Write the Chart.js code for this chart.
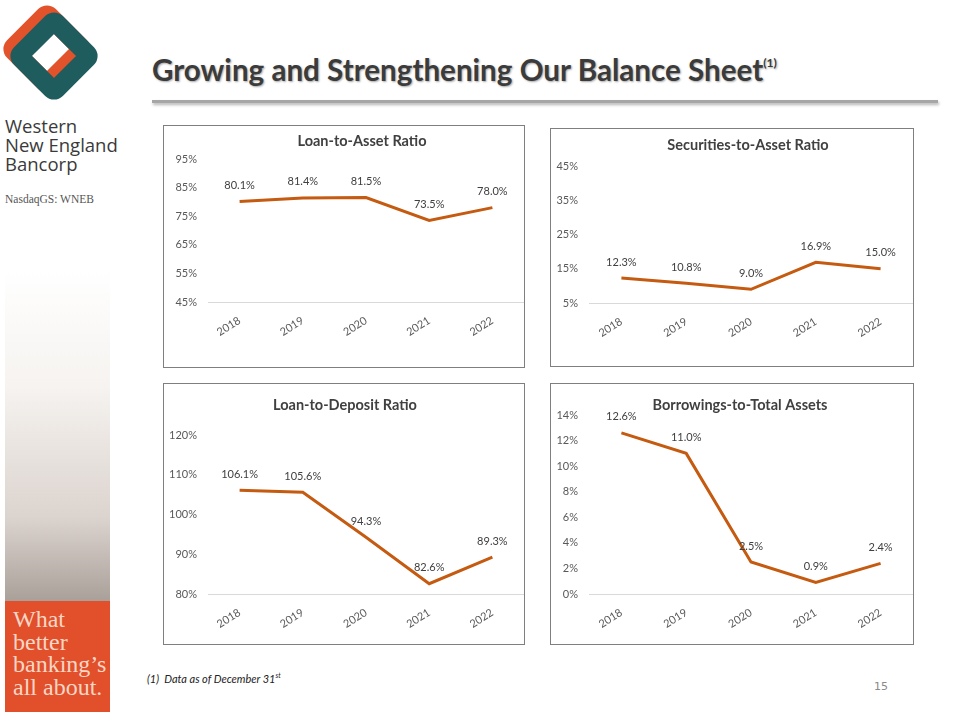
<!DOCTYPE html>
<html>
<head>
<meta charset="utf-8">
<script src="https://cdn.jsdelivr.net/npm/chart.js@4.4.0/dist/chart.umd.min.js"></script>
<style>
    html, body { margin: 0; padding: 0; background: #fff; }
    body { width: 960px; height: 720px; position: relative; overflow: hidden; font-family: Lato, sans-serif; }
    .abs { position: absolute; }
    .brand { left: 5px; top: 116px; font-family: "Open Sans", sans-serif; font-size: 18.5px; line-height: 19px; color: #3a3a3a; }
    .ticker { left: 5px; top: 193px; font-family: "Liberation Serif", serif; font-size: 11.5px; color: #555; }
    .fade { left: 5px; top: 270px; width: 105px; height: 331px; background: linear-gradient(to bottom, #ffffff 0%, #f6f3f0 35%, #dbd3ce 75%, #aaa09a 100%); }
    .tagline { left: 5px; top: 601px; width: 105px; height: 111px; background: #e1502a; color: #f9d6c6; font-family: "Liberation Serif", serif; font-size: 24px; line-height: 22.5px; box-sizing: border-box; padding: 7px 0 0 8px; }
    .title { left: 152px; top: 52px; font-weight: 700; font-size: 29.6px; color: #3b3b3b; text-shadow: 1px 1px 2px rgba(0,0,0,0.35); white-space: nowrap; }
    .title sup { font-size: 12px; vertical-align: 14px; }
    .rule { left: 152px; top: 100px; width: 786px; height: 3px; background: #a6a6a6; box-shadow: 1px 2px 3px rgba(0,0,0,0.3); }
    .box { border: 1px solid #7f7f7f; box-sizing: border-box; }
    .box canvas { display: block; }
    .note { left: 147px; top: 671px; font-style: italic; font-size: 11px; color: #222; }
    .note sup { font-size: 7px; }
    .page { left: 874px; top: 680px; font-family: Tahoma, "DejaVu Sans", sans-serif; font-size: 11px; color: #8a8a8a; }
</style>
</head>
<body>

<svg class="abs" style="left:0;top:0" width="110" height="110">
    <rect x="22" y="24" width="50" height="50" rx="3" fill="none" stroke="#e2532b" stroke-width="19" transform="rotate(45 47 49)"></rect>
    <rect x="29" y="31" width="50" height="50" rx="3" fill="none" stroke="#1f5c5e" stroke-width="19" transform="rotate(45 54 56)"></rect>
</svg>
<div class="abs brand">Western<br>New England<br>Bancorp</div>
<div class="abs ticker">NasdaqGS: WNEB</div>
<div class="abs fade"></div>
<div class="abs tagline">What<br>better<br>banking’s<br>all about.</div>

<div class="abs title">Growing and Strengthening Our Balance Sheet<sup>(1)</sup></div>
<div class="abs rule"></div>

<div class="abs box" style="left:163px;top:125px;width:362px;height:243px"><canvas id="c-loan-asset"></canvas></div>
<div class="abs box" style="left:550px;top:128px;width:364px;height:239px"><canvas id="c-sec-asset"></canvas></div>
<div class="abs box" style="left:163px;top:383px;width:362px;height:262px"><canvas id="c-loan-deposit"></canvas></div>
<div class="abs box" style="left:550px;top:383px;width:364px;height:262px"><canvas id="c-borrowings"></canvas></div>

<div class="abs note">(1)&nbsp; Data as of December 31<sup>st</sup></div>
<div class="abs page">15</div>

<script>
// Dados
const years = ['2018', '2019', '2020', '2021', '2022'];

const loanToAsset = [80.1, 81.4, 81.5, 73.5, 78.0];
const securitiesToAsset = [12.3, 10.8, 9.0, 16.9, 15.0];
const loanToDeposit = [106.1, 105.6, 94.3, 82.6, 89.3];
const borrowingsToAssets = [12.6, 11.0, 2.5, 0.9, 2.4];

const loanToAssetTicks = [45, 55, 65, 75, 85, 95];
const securitiesTicks = [5, 15, 25, 35, 45];
const loanToDepositTicks = [80, 90, 100, 110, 120];
const borrowingsTicks = [0, 2, 4, 6, 8, 10, 12, 14];

const LINE_COLOR = '#c55a11';
const TEXT_COLOR = '#404040';
const FONT = 'Lato, sans-serif';

// Rótulos de valor acima de cada ponto
const valueLabels = {
    id: 'valueLabels',
    afterDatasetsDraw(chart) {
        const ctx = chart.ctx;
        const meta = chart.getDatasetMeta(0);
        const values = chart.data.datasets[0].data;
        ctx.save();
        ctx.font = '11px ' + FONT;
        ctx.fillStyle = TEXT_COLOR;
        ctx.textAlign = 'center';
        ctx.textBaseline = 'middle';
        meta.data.forEach((pt, i) => {
            ctx.fillText(values[i].toFixed(1) + '%', pt.x, pt.y - 16);
        });
        ctx.restore();
    }
};

// Título do quadro
const boxTitle = {
    id: 'boxTitle',
    afterDraw(chart, args, opts) {
        const ctx = chart.ctx;
        ctx.save();
        ctx.font = 'bold 14.5px ' + FONT;
        ctx.fillStyle = TEXT_COLOR;
        ctx.textAlign = 'center';
        ctx.textBaseline = 'middle';
        ctx.fillText(opts.text, opts.x, opts.y);
        ctx.restore();
    }
};

function makeChart(canvasId, title, values, ticks, box) {
    const step = ticks[1] - ticks[0];
    return new Chart(document.getElementById(canvasId), {
        type: 'line',
        data: {
            labels: years,
            datasets: [{
                data: values,
                borderColor: LINE_COLOR,
                borderWidth: 3,
                pointRadius: 0,
                tension: 0,
                fill: false
            }]
        },
        options: {
            responsive: true,
            maintainAspectRatio: false,
            animation: false,
            layout: { padding: { top: box.top, left: 0, right: 0, bottom: 0 } },
            plugins: {
                legend: { display: false },
                tooltip: { enabled: false },
                boxTitle: { text: title, x: box.titleX, y: box.titleY }
            },
            scales: {
                x: {
                    offset: true,
                    grid: { display: false, drawTicks: false },
                    border: { display: true, color: '#d9d9d9', width: 1 },
                    ticks: {
                        color: '#595959',
                        font: { family: FONT, size: 11 },
                        minRotation: 32,
                        maxRotation: 32,
                        padding: 12
                    },
                    afterFit: (scale) => { scale.height = box.xHeight; }
                },
                y: {
                    min: ticks[0],
                    max: ticks[ticks.length - 1],
                    grid: { display: false, drawTicks: true, tickLength: 8 },
                    border: { display: false },
                    ticks: {
                        stepSize: step,
                        color: '#595959',
                        font: { family: FONT, size: 11 },
                        padding: 3,
                        callback: (v) => v + '%'
                    },
                    afterFit: (scale) => { scale.width = box.yWidth; }
                }
            }
        },
        plugins: [valueLabels, boxTitle]
    });
}

document.addEventListener('DOMContentLoaded', () => {
    makeChart('c-loan-asset', 'Loan-to-Asset Ratio', loanToAsset, loanToAssetTicks,
        { top: 33, xHeight: 65, yWidth: 44, titleX: 198, titleY: 15 });
    makeChart('c-sec-asset', 'Securities-to-Asset Ratio', securitiesToAsset, securitiesTicks,
        { top: 37, xHeight: 63, yWidth: 38, titleX: 197, titleY: 16 });
    makeChart('c-loan-deposit', 'Loan-to-Deposit Ratio', loanToDeposit, loanToDepositTicks,
        { top: 51, xHeight: 50, yWidth: 44, titleX: 181, titleY: 21 });
    makeChart('c-borrowings', 'Borrowings-to-Total Assets', borrowingsToAssets, borrowingsTicks,
        { top: 31, xHeight: 50, yWidth: 38, titleX: 189, titleY: 21 });
});
</script>
</body>
</html>
